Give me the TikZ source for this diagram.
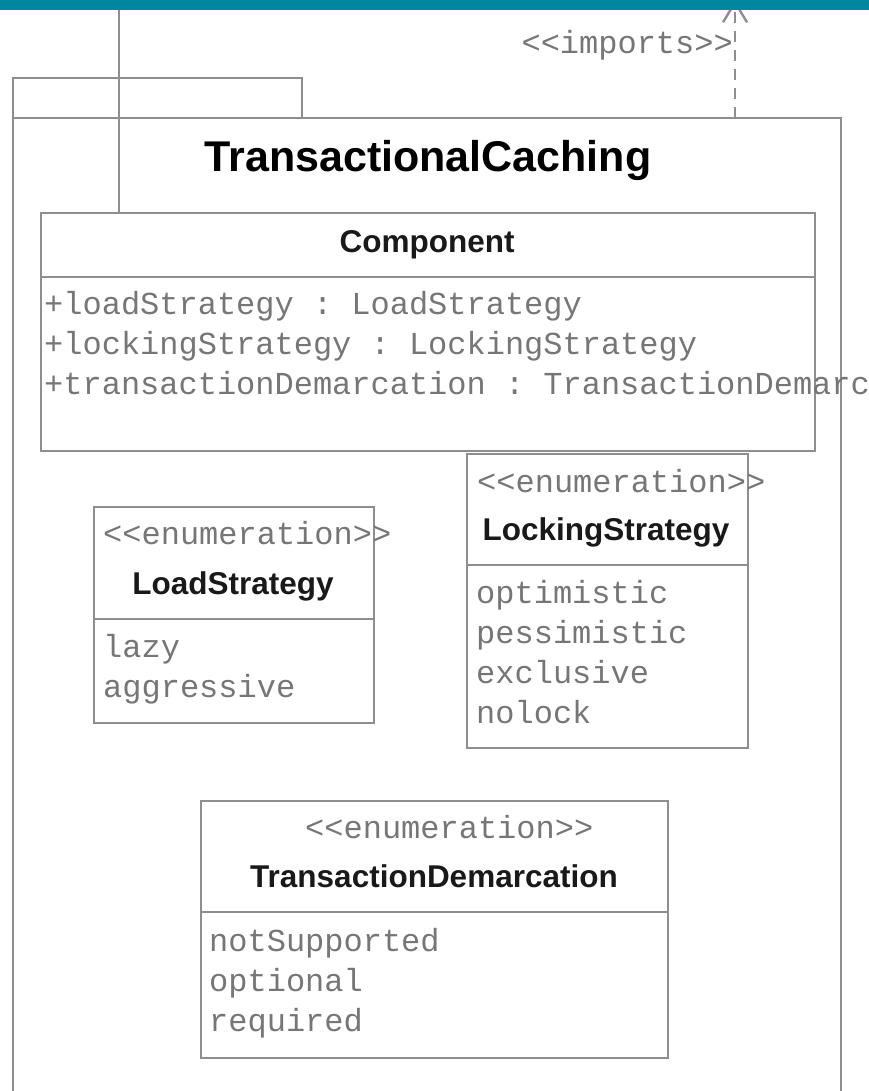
\documentclass[tikz,border=0pt]{standalone}
\usepackage{fontspec}
\setmainfont{Liberation Sans}
\setmonofont{Liberation Mono}
\usepackage{xcolor}
\usetikzlibrary{arrows.meta, positioning}

\definecolor{linegray}{HTML}{8E8E8E}
\definecolor{mongray}{HTML}{767676}
\definecolor{headerteal}{HTML}{00869F}

\begin{document}
\begin{tikzpicture}[
  x=1pt, y=-1pt,
  frame/.style={draw=linegray, line width=2.4pt},
  classbox/.style={frame, rectangle, inner sep=0pt, anchor=north west},
  pkgtitle/.style={anchor=base, inner sep=0pt, font=\fontsize{43}{50}\selectfont\bfseries},
  cname/.style={anchor=base, inner sep=0pt, text=black!90, font=\fontsize{31.5}{36}\selectfont\bfseries},
  mono/.style={anchor=base west, inner sep=0pt, text=mongray, font=\fontsize{32}{40}\selectfont\ttfamily}
]
  \useasboundingbox (0,0) rectangle (869,1091);

  % package with its tab, open at the bottom
  \draw[frame] (13,1100) -- (13,78) -- (302,78) -- (302,118);
  \draw[frame] (13,118) -- (841,118) -- (841,1100);
  \node[pkgtitle] (pkg) at (428,172) {TransactionalCaching};

  % class boxes
  \node[classbox, minimum width=774pt, minimum height=238pt] (component) at (40,212) {};
  \node[classbox, minimum width=280pt, minimum height=216pt] (load) at (93,506) {};
  \node[classbox, minimum width=281pt, minimum height=294pt] (locking) at (466,453) {};
  \node[classbox, minimum width=467pt, minimum height=257pt] (demarc) at (200,800) {};
  \draw[frame] (component.west |- 0,277) -- (component.east |- 0,277);
  \draw[frame] (load.west |- 0,619) -- (load.east |- 0,619);
  \draw[frame] (locking.west |- 0,565) -- (locking.east |- 0,565);
  \draw[frame] (demarc.west |- 0,912) -- (demarc.east |- 0,912);

  % Component
  \node[cname] (componentName) at (427,252) {Component};
  \node[mono] (attrLoad) at (44,314) {+loadStrategy : LoadStrategy};
  \node[mono] (attrLock) at (44,354) {+lockingStrategy : LockingStrategy};
  \node[mono] (attrDemarc) at (44,394) {+transactionDemarcation : TransactionDemarcation};

  % LoadStrategy
  \node[mono] (loadStereo) at (103,544) {<{}<enumeration>{}>};
  \node[cname] (loadName) at (233,594) {LoadStrategy};
  \node[mono] (loadLazy) at (103,657) {lazy};
  \node[mono] (loadAggr) at (103,697) {aggressive};

  % LockingStrategy
  \node[mono] (lockStereo) at (477,492) {<{}<enumeration>{}>};
  \node[cname] (lockName) at (606,540) {LockingStrategy};
  \node[mono] (lockOpt) at (476,603) {optimistic};
  \node[mono] (lockPess) at (476,643) {pessimistic};
  \node[mono] (lockExcl) at (476,683) {exclusive};
  \node[mono] (lockNone) at (476,723) {nolock};

  % TransactionDemarcation
  \node[mono] (demarcStereo) at (305,838) {<{}<enumeration>{}>};
  \node[cname] (demarcName) at (434,887) {TransactionDemarcation};
  \node[mono] (demarcNot) at (209,951) {notSupported};
  \node[mono] (demarcOpt) at (209,991) {optional};
  \node[mono] (demarcReq) at (209,1031) {required};

  % links leaving the package
  \coordinate (owner) at (119,0);
  \coordinate (importFrom) at (735,118);
  \coordinate (importTo) at (735,0);
  \draw[frame] (owner) -- (owner |- component.north);
  \draw[frame, dash pattern=on 11pt off 8pt, -{Straight Barb[length=20pt, width=24pt, line width=2.4pt]}] (importFrom) -- (importTo);
  \node[mono, anchor=base east] (imports) at (733,54) {<{}<imports>{}>};

  % header band
  \fill[headerteal] (0,0) rectangle (869,10);
\end{tikzpicture}
\end{document}
